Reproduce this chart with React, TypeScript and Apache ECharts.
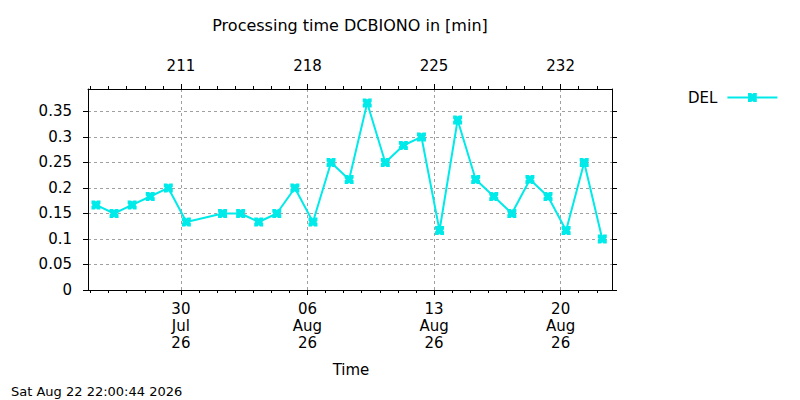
import React, { useEffect, useRef } from 'react';
import * as echarts from 'echarts';

// ---- data ----
const dates = [
  '2026-07-25', '2026-07-26', '2026-07-27', '2026-07-28', '2026-07-29', '2026-07-30',
  '2026-08-01', '2026-08-02', '2026-08-03', '2026-08-04', '2026-08-05', '2026-08-06',
  '2026-08-07', '2026-08-08', '2026-08-09', '2026-08-10', '2026-08-11', '2026-08-12',
  '2026-08-13', '2026-08-14', '2026-08-15', '2026-08-16', '2026-08-17', '2026-08-18',
  '2026-08-19', '2026-08-20', '2026-08-21', '2026-08-22',
];
const delValues = [
  0.1667, 0.15, 0.1667, 0.1833, 0.2, 0.1333,
  0.15, 0.15, 0.1333, 0.15, 0.2, 0.1333,
  0.25, 0.2167, 0.3667, 0.25, 0.2833, 0.3,
  0.1167, 0.3333, 0.2167, 0.1833, 0.15, 0.2167,
  0.1833, 0.1167, 0.25, 0.1,
];
const sampleTime = 'T07:15:00Z';
const seriesName = 'DEL';

const axisStart = '2026-07-24T20:40:00Z';
const axisEnd = '2026-08-22T20:10:00Z';
const refDate = '2026-07-30T00:00:00Z';
const bottomTickDates = ['2026-07-30', '2026-08-06', '2026-08-13', '2026-08-20'];
const topTickLabels = ['211', '218', '225', '232'];
const yTicks = [0, 0.05, 0.1, 0.15, 0.2, 0.25, 0.3, 0.35];
const yMax = 0.394;
const monthNames = ['Jan', 'Feb', 'Mar', 'Apr', 'May', 'Jun', 'Jul', 'Aug', 'Sep', 'Oct', 'Nov', 'Dec'];

const titleText = 'Processing time DCBIONO in [min]';
const xAxisName = 'Time';
const stampText = 'Sat Aug 22 22:00:44 2026';

// ---- helpers ----
const DAY = 86400000;
const toDays = (iso: string) => (Date.parse(iso) - Date.parse(refDate)) / DAY;
const xMin = toDays(axisStart);
const xMax = toDays(axisEnd);
const majorTicks = bottomTickDates.map((d) => toDays(d + 'T00:00:00Z'));
const minorTicks: number[] = [];
for (let d = Math.ceil(xMin); d <= Math.floor(xMax); d++) minorTicks.push(d);

const pad2 = (n: number) => (n < 10 ? '0' + n : '' + n);
const bottomLabel = (v: number) => {
  const dt = new Date(Date.parse(refDate) + v * DAY);
  return pad2(dt.getUTCDate()) + '\n' + monthNames[dt.getUTCMonth()] + '\n' + pad2(dt.getUTCFullYear() % 100);
};
const topLabel = (v: number) => {
  let best = 0;
  majorTicks.forEach((t, i) => {
    if (Math.abs(t - v) < Math.abs(majorTicks[best] - v)) best = i;
  });
  return topTickLabels[best];
};

const FONT = 'DejaVu Sans';
const CYAN = '#00eaea';
const GRIDC = '#a0a0a0';
const MARKER = 'path://M0,0 L3,0 L4,1 L5,0 L8,0 L8,3 L7,4 L8,5 L8,8 L5,8 L4,7 L3,8 L0,8 L0,5 L1,4 L0,3 Z';

export default function App() {
  const ref = useRef<HTMLDivElement>(null);
  useEffect(() => {
    if (!ref.current) return;
    const chart = echarts.init(ref.current, undefined, { renderer: 'svg' });
    const axisLine = { show: true, onZero: false, lineStyle: { color: '#000', width: 1 } };
    const dashed = { show: true, lineStyle: { color: GRIDC, width: 1, type: [3, 3] as any } };
    const baseX = { type: 'value' as const, min: xMin, max: xMax, gridIndex: 0 };
    chart.setOption({
      animation: false,
      backgroundColor: '#fff',
      grid: { left: 88, right: 188, top: 89, bottom: 110, containLabel: false, outerBoundsMode: 'none' } as any,
      legend: {
        data: [seriesName],
        left: 683,
        top: 85,
        itemWidth: 50,
        itemHeight: 11,
        align: 'right',
        textStyle: { fontSize: 15, fontFamily: FONT, color: '#000', padding: [0, 5, 0, 0] },
        selectedMode: false,
      },
      xAxis: [
        {
          ...baseX,
          position: 'bottom',
          axisLine,
          axisTick: { show: true, inside: false, length: 5, customValues: majorTicks, lineStyle: { color: '#000' } },
          axisLabel: {
            show: true,
            customValues: majorTicks,
            formatter: (v: number) => bottomLabel(v),
            margin: 10,
            fontSize: 15,
            lineHeight: 17,
            fontFamily: FONT,
            color: '#000',
          },
          splitLine: dashed,
        },
        {
          ...baseX,
          position: 'bottom',
          axisLine: { show: false, onZero: false },
          axisTick: { show: true, inside: false, length: 3, customValues: minorTicks, lineStyle: { color: '#000' } },
          axisLabel: { show: false },
          splitLine: { show: false },
        },
        {
          ...baseX,
          position: 'top',
          axisLine,
          axisTick: { show: true, inside: false, length: 5, customValues: majorTicks, lineStyle: { color: '#000' } },
          axisLabel: {
            show: true,
            customValues: majorTicks,
            formatter: (v: number) => topLabel(v),
            margin: 16,
            fontSize: 15,
            fontFamily: FONT,
            color: '#000',
          },
          splitLine: { show: false },
        },
        {
          ...baseX,
          position: 'top',
          axisLine: { show: false, onZero: false },
          axisTick: { show: true, inside: false, length: 3, customValues: minorTicks, lineStyle: { color: '#000' } },
          axisLabel: { show: false },
          splitLine: { show: false },
        },
      ],
      yAxis: [
        {
          type: 'value',
          position: 'left',
          min: 0,
          max: yMax,
          axisLine,
          axisTick: { show: true, inside: false, length: 5, customValues: yTicks, lineStyle: { color: '#000' } },
          axisLabel: {
            show: true,
            customValues: yTicks,
            margin: 16,
            fontSize: 15,
            fontFamily: FONT,
            color: '#000',
            padding: [0, 0, 4, 0],
          },
          splitLine: dashed,
        },
        {
          type: 'value',
          position: 'right',
          min: 0,
          max: yMax,
          axisLine,
          axisTick: { show: true, inside: false, length: 5, customValues: yTicks, lineStyle: { color: '#000' } },
          axisLabel: { show: false },
          splitLine: { show: false },
        },
      ],
      series: [
        {
          name: seriesName,
          type: 'line',
          xAxisIndex: 0,
          yAxisIndex: 0,
          data: dates.map((d, i) => [toDays(d + sampleTime), delValues[i]]),
          symbol: MARKER,
          symbolSize: 9,
          showAllSymbol: true,
          lineStyle: { color: CYAN, width: 2 },
          itemStyle: { color: CYAN },
          emphasis: { disabled: true },
        },
      ],
      graphic: [
        {
          type: 'text',
          x: 350,
          y: 25,
          style: { text: titleText, font: `16px "${FONT}"`, fill: '#000', textAlign: 'center', textVerticalAlign: 'middle' },
        },
        {
          type: 'text',
          x: 351,
          y: 370,
          style: { text: xAxisName, font: `15px "${FONT}"`, fill: '#000', textAlign: 'center', textVerticalAlign: 'middle' },
        },
        {
          type: 'text',
          x: 11,
          y: 391,
          style: { text: stampText, font: `13px "${FONT}"`, fill: '#000', textAlign: 'left', textVerticalAlign: 'middle' },
        },
      ],
    });
    return () => chart.dispose();
  }, []);
  return <div ref={ref} style={{ position: 'absolute', left: 0, top: 0, width: 800, height: 400 }} />;
}
